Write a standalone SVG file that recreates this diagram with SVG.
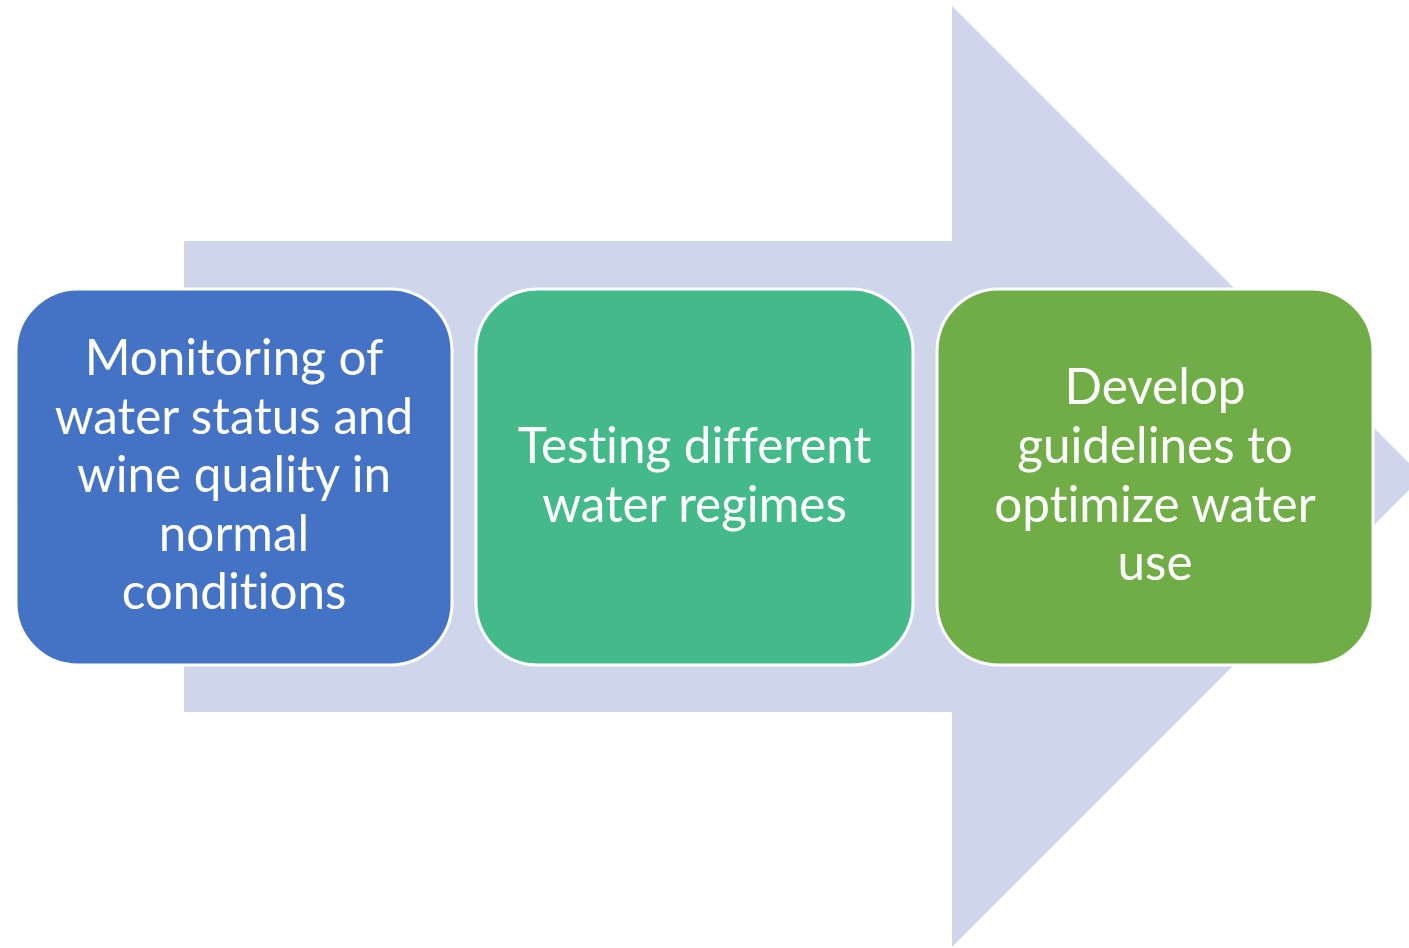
<svg xmlns="http://www.w3.org/2000/svg" width="1409" height="948" viewBox="0 0 1409 948">
<style>
.box{stroke:#FFFFFF;stroke-width:3}
.t{font-family:"Lato","Noto Sans",sans-serif;font-size:49.4px;fill:#FFFFFF;text-anchor:middle;font-variant-ligatures:none;font-feature-settings:"liga" 0,"clig" 0}
</style>
<rect width="1409" height="948" fill="#FFFFFF"/>
<g id="connectors">
<polygon id="big-arrow" points="184,241 952,241 952,6 1422.5,476.5 952,947 952,712 184,712" fill="#CFD5EA"/>
</g>
<g id="node1">
<rect class="box" x="16" y="289" width="436" height="376" rx="62" fill="#4472C4"/>
<text class="t" x="234" y="375">Monitoring of</text>
<text class="t" x="234" y="434">water status and</text>
<text class="t" x="234" y="492">wine quality in</text>
<text class="t" x="234" y="551">normal</text>
<text class="t" x="234" y="609">conditions</text>
</g>
<g id="node2">
<rect class="box" x="476" y="289" width="437" height="376" rx="62" fill="#44BA8B"/>
<text class="t" x="694.5" y="463">Testing different</text>
<text class="t" x="694.5" y="522">water regimes</text>
</g>
<g id="node3">
<rect class="box" x="937" y="289" width="436" height="376" rx="62" fill="#70AD47"/>
<text class="t" x="1155" y="404">Develop</text>
<text class="t" x="1155" y="463">guidelines to</text>
<text class="t" x="1155" y="522">optimize water</text>
<text class="t" x="1155" y="580">use</text>
</g>
</svg>
